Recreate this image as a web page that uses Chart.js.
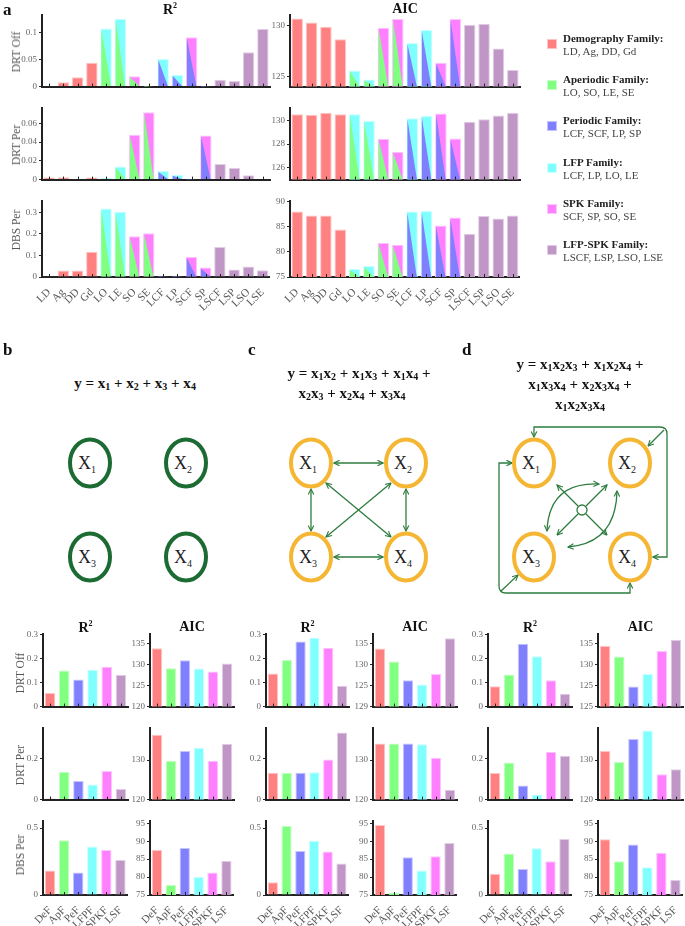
<!DOCTYPE html>
<html lang="en">
<head>
<meta charset="UTF-8">
<title>Family models: R2 and AIC</title>
<script src="https://cdn.jsdelivr.net/npm/chart.js"></script>
<style>
  body { margin: 0; background: #fff; }
  #page { position: relative; width: 685px; height: 926px; overflow: hidden;
          font-family: 'Liberation Serif', 'Times New Roman', serif; }
  #page canvas { position: absolute; }
  .pl { position: absolute; font-size: 17px; font-weight: bold; color: #111; line-height: 1; }
  .ttl { position: absolute; font-size: 14px; font-weight: bold; color: #111; transform: translate(-50%, -50%); white-space: nowrap; }
  .ttl sup { font-size: 8px; vertical-align: 6px; }
  .row { position: absolute; font-size: 11.5px; color: #555; transform: translate(-50%, -50%) rotate(-90deg); white-space: nowrap; }
  .eq { position: absolute; font-size: 15px; font-weight: bold; color: #111; transform: translate(-50%, -50%); white-space: nowrap; }
  .eq sub { font-size: 10px; vertical-align: -2px; }
  .lg-box { position: absolute; width: 10px; height: 10px; }
  .lg-t { position: absolute; font-size: 11px; font-weight: bold; color: #222; white-space: nowrap; line-height: 12px; }
  .lg-m { position: absolute; font-size: 11px; color: #444; white-space: nowrap; line-height: 12px; }
</style>
</head>
<body>
<div id="page"></div>
<script>
// ---------- data: panel a ----------
const featLabels = ['LD', 'Ag', 'DD', 'Gd', 'LO', 'LE', 'SO', 'SE', 'LCF', 'LP', 'SCF', 'SP', 'LSCF', 'LSP', 'LSO', 'LSE'];
// each feature belongs to one or two families (lower-left / upper-right part of the bar)
const famLower = ['Dem', 'Dem', 'Dem', 'Dem', 'Ape', 'Ape', 'Ape', 'Ape', 'Per', 'Per', 'Per', 'Per', 'LS', 'LS', 'LS', 'LS'];
const famUpper = ['Dem', 'Dem', 'Dem', 'Dem', 'LFP', 'LFP', 'SPK', 'SPK', 'LFP', 'LFP', 'SPK', 'SPK', 'LS', 'LS', 'LS', 'LS'];

const r2DrtOff = [0.0005, 0.008, 0.017, 0.044, 0.107, 0.125, 0.019, 0.001, 0.051, 0.022, 0.091, 0.001, 0.0126, 0.0103, 0.063, 0.106];
const r2DrtPer = [0.0023, 0.0026, 0.0003, 0.0023, 0.0016, 0.014, 0.048, 0.072, 0.0092, 0.0052, 0.001, 0.047, 0.0167, 0.0125, 0.0047, 0.0008];
const r2DbsPer = [0.004, 0.030, 0.030, 0.117, 0.317, 0.302, 0.189, 0.202, 0.004, 0.001, 0.094, 0.044, 0.139, 0.035, 0.049, 0.031];
const aicDrtOff = [130.70, 130.30, 129.88, 128.66, 125.58, 124.70, 129.79, 130.64, 128.29, 129.57, 126.34, 130.64, 130.09, 130.18, 127.74, 125.64];
const aicDrtPer = [130.51, 130.46, 130.64, 130.51, 130.51, 129.95, 128.44, 127.33, 130.18, 130.36, 130.56, 128.46, 129.87, 130.08, 130.41, 130.64];
const aicDbsPer = [88.0, 87.2, 87.2, 84.4, 76.6, 77.2, 81.8, 81.4, 88.0, 88.1, 85.2, 86.8, 83.6, 87.1, 86.6, 87.2];

const aR2Ticks = [[0, 0.05, 0.1], [0, 0.02, 0.04, 0.06], [0, 0.1, 0.2, 0.3]];
const aR2Max = [0.131, 0.076, 0.35];
const aAicTicks = [[125, 130], [126, 128, 130], [75, 80, 85, 90]];
const aAicMin = [124, 125, 75];
const aAicMax = [131, 131, 90];

const legendTitles = ['Demography Family:', 'Aperiodic Family:', 'Periodic Family:', 'LFP Family:', 'SPK Family:', 'LFP-SPK Family:'];
const legendMembers = ['LD, Ag, DD, Gd', 'LO, SO, LE, SE', 'LCF, SCF, LP, SP', 'LCF, LP, LO, LE', 'SCF, SP, SO, SE', 'LSCF, LSP, LSO, LSE'];
const legendFams = ['Dem', 'Ape', 'Per', 'LFP', 'SPK', 'LS'];

// ---------- data: panels b, c, d (rows: DRT Off, DRT Per, DBS Per) ----------
const famShort = ['DeF', 'ApF', 'PeF', 'LFPF', 'SPKF', 'LSF'];
const famShortKeys = ['Dem', 'Ape', 'Per', 'LFP', 'SPK', 'LS'];

const addR2 = [[0.057, 0.150, 0.113, 0.153, 0.166, 0.132],
               [0.006, 0.137, 0.091, 0.074, 0.140, 0.052],
               [0.183, 0.409, 0.168, 0.363, 0.337, 0.262]];
const addAIC = [[134.0, 129.2, 131.1, 129.1, 128.4, 130.3],
                [136.4, 129.8, 132.3, 133.1, 129.8, 134.1],
                [87.5, 77.8, 88.1, 80.0, 81.3, 84.5]];
const pairR2 = [[0.138, 0.194, 0.270, 0.286, 0.245, 0.087],
                [0.132, 0.132, 0.132, 0.135, 0.197, 0.330],
                [0.096, 0.517, 0.329, 0.406, 0.325, 0.236]];
const pairAIC = [[133.9, 130.8, 126.3, 125.3, 127.8, 136.4],
                 [134.2, 134.2, 134.2, 134.0, 130.6, 122.5],
                 [94.5, 75.7, 85.5, 81.8, 85.8, 89.5]];
const tripR2 = [[0.085, 0.133, 0.261, 0.209, 0.110, 0.053],
                [0.131, 0.182, 0.069, 0.025, 0.235, 0.215],
                [0.159, 0.310, 0.195, 0.349, 0.252, 0.418]];
const tripAIC = [[134.5, 132.0, 124.8, 127.8, 133.3, 136.0],
                 [132.3, 129.5, 135.3, 137.5, 126.4, 127.7],
                 [90.5, 84.4, 89.1, 82.7, 86.8, 79.2]];

const botR2Ticks = [[0, 0.1, 0.2, 0.3], [0, 0.2], [0, 0.5]];
const botR2Max = [0.3, 0.35, 0.55];
const botAicTicks = [[120, 125, 130, 135], [120, 130], [75, 80, 85, 90, 95]];
const botAicMin = [120, 120, 75];
const botAicMax = [137.3, 138, 95.5];
// tick labels of the first AIC row as printed in each panel
const addAicOffText = ['120', '125', '130', '135'];
const pairAicOffText = ['129', '125', '130', '135'];
const tripAicOffText = ['125', '125', '130', '135'];

// ---------- styling ----------
const SERIF = "'Liberation Serif', 'Times New Roman', serif";
const FAM = {
  Dem: { fill: '#ff8080', edge: '#ffc4c4' },
  Ape: { fill: '#80ff80', edge: '#c4ffc4' },
  Per: { fill: '#8080ff', edge: '#c4c4ff' },
  LFP: { fill: '#80ffff', edge: '#c8ffff' },
  SPK: { fill: '#ff80ff', edge: '#ffc4ff' },
  LS:  { fill: '#bf96c6', edge: '#e2cde6' }
};
const page = document.getElementById('page');

// bars split by a diagonal: lower-left triangle in the first family colour; small inward x ticks
const barExtras = {
  id: 'barExtras',
  afterDatasetsDraw(chart) {
    const ctx = chart.ctx;
    const area = chart.chartArea;
    const ds = chart.data.datasets[0];
    const meta = chart.getDatasetMeta(0);
    ctx.save();
    ctx.beginPath();
    ctx.rect(area.left, area.top, area.right - area.left, area.bottom - area.top);
    ctx.clip();
    meta.data.forEach((bar, i) => {
      if (!ds.lowerFam || ds.lowerFam[i] === ds.upperFam[i]) return;
      const p = bar.getProps(['x', 'y', 'base', 'width'], true);
      const l = p.x - p.width / 2 + 1, r = p.x + p.width / 2 - 1;
      const bottom = Math.min(p.base, area.bottom);
      ctx.fillStyle = FAM[ds.lowerFam[i]].fill;
      ctx.beginPath();
      ctx.moveTo(l, p.y + 1);
      ctx.lineTo(l, bottom);
      ctx.lineTo(r, bottom);
      ctx.closePath();
      ctx.fill();
    });
    ctx.restore();
    ctx.save();
    const xs = chart.scales.x;
    ctx.strokeStyle = '#222';
    ctx.lineWidth = 1;
    chart.data.labels.forEach((_, i) => {
      const px = Math.round(xs.getPixelForValue(i)) + 0.5;
      ctx.beginPath();
      ctx.moveTo(px, xs.top);
      ctx.lineTo(px, xs.top - 3);
      ctx.stroke();
    });
    ctx.restore();
  }
};

// box = [left, right, top, bottom] of the plot area in page pixels
function barChart(box, labels, values, lower, upper, yMin, yMax, ticks, tickText, showX, barPct) {
  const G = 36, PT = 6, PR = 3, B = showX ? 34 : 4;
  const w = box[1] - box[0] + G + PR;
  const h = box[3] - box[2] + PT + B;
  const cv = document.createElement('canvas');
  cv.width = w; cv.height = h;
  cv.style.left = (box[0] - G) + 'px';
  cv.style.top = (box[2] - PT) + 'px';
  page.appendChild(cv);
  return new Chart(cv, {
    type: 'bar',
    data: {
      labels: labels,
      datasets: [{
        data: values,
        lowerFam: lower,
        upperFam: upper,
        backgroundColor: upper.map(f => FAM[f].fill),
        borderColor: upper.map(f => FAM[f].edge),
        borderWidth: 1,
        barPercentage: barPct,
        categoryPercentage: 1
      }]
    },
    options: {
      responsive: false,
      animation: false,
      layout: { padding: { left: 0, right: PR, top: PT, bottom: 0 } },
      plugins: { legend: { display: false }, tooltip: { enabled: false } },
      scales: {
        x: {
          grid: { display: false },
          border: { display: true, color: '#222', width: 2 },
          ticks: {
            display: showX, autoSkip: false, minRotation: 45, maxRotation: 45, padding: 1,
            color: '#555', font: { family: SERIF, size: 11 }
          },
          afterFit: s => { s.height = B; }
        },
        y: {
          min: yMin, max: yMax,
          grid: { display: true, drawOnChartArea: false, drawTicks: true, tickLength: 3, color: '#222' },
          border: { display: true, color: '#222', width: 2 },
          ticks: {
            color: '#666', padding: 2, font: { family: SERIF, size: 9 },
            callback: (v, i) => tickText[i]
          },
          afterBuildTicks: s => { s.ticks = ticks.map(v => ({ value: v })); },
          afterFit: s => { s.width = G; }
        }
      }
    },
    plugins: [barExtras]
  });
}

function addHtml(cls, html, left, top) {
  const d = document.createElement('div');
  d.className = cls;
  d.innerHTML = html;
  d.style.left = left + 'px';
  d.style.top = top + 'px';
  page.appendChild(d);
  return d;
}

// ---------- panel a ----------
const aR2Data = [r2DrtOff, r2DrtPer, r2DbsPer];
const aAicData = [aicDrtOff, aicDrtPer, aicDbsPer];
const aRowsY = [[14, 90], [107, 183], [200, 277]];
const rowNames = ['DRT Off', 'DRT Per', 'DBS Per'];
const aRowLabelY = [52, 145, 230];
for (let r = 0; r < 3; r++) {
  const last = r === 2;
  barChart([42, 270, aRowsY[r][0], aRowsY[r][1]], featLabels, aR2Data[r], famLower, famUpper,
    0, aR2Max[r], aR2Ticks[r], aR2Ticks[r].map(String), last, 0.8);
  barChart([290, 520, aRowsY[r][0], aRowsY[r][1]], featLabels, aAicData[r], famLower, famUpper,
    aAicMin[r], aAicMax[r], aAicTicks[r], aAicTicks[r].map(String), last, 0.8);
  addHtml('row', rowNames[r], 16, aRowLabelY[r]);
}
addHtml('pl', 'a', 3, 1);
addHtml('ttl', 'R<sup>2</sup>', 170, 9);
addHtml('ttl', 'AIC', 405, 9);

legendTitles.forEach((t, i) => {
  const cy = 44 + i * 41.2;
  const b = addHtml('lg-box', '', 547, cy - 5);
  b.style.background = FAM[legendFams[i]].fill;
  b.style.boxShadow = 'inset 0 0 0 1px ' + FAM[legendFams[i]].edge;
  addHtml('lg-t', t, 563, cy - 12);
  addHtml('lg-m', legendMembers[i], 563, cy + 1);
});

// ---------- panels b, c, d: bar charts ----------
const botRowsY = [[633, 710], [727, 803], [820, 895]];
const groups = [
  { r2: addR2, aic: addAIC, offText: addAicOffText, r2x: [43, 128], aicx: [150, 234] },
  { r2: pairR2, aic: pairAIC, offText: pairAicOffText, r2x: [266, 349], aicx: [373, 457] },
  { r2: tripR2, aic: tripAIC, offText: tripAicOffText, r2x: [488, 572], aicx: [598, 683] }
];
groups.forEach(g => {
  for (let r = 0; r < 3; r++) {
    const last = r === 2;
    barChart([g.r2x[0], g.r2x[1], botRowsY[r][0], botRowsY[r][1]], famShort, g.r2[r], famShortKeys, famShortKeys,
      0, botR2Max[r], botR2Ticks[r], botR2Ticks[r].map(String), last, 0.74);
    const aicText = r === 0 ? g.offText : botAicTicks[r].map(String);
    barChart([g.aicx[0], g.aicx[1], botRowsY[r][0], botRowsY[r][1]], famShort, g.aic[r], famShortKeys, famShortKeys,
      botAicMin[r], botAicMax[r], botAicTicks[r], aicText, last, 0.74);
  }
  addHtml('ttl', 'R<sup>2</sup>', (g.r2x[0] + g.r2x[1]) / 2, 627);
  addHtml('ttl', 'AIC', (g.aicx[0] + g.aicx[1]) / 2, 627);
});
[673, 765, 855].forEach((y, r) => addHtml('row', rowNames[r], 20, y));

// ---------- panels b, c, d: model diagrams ----------
addHtml('pl', 'b', 3, 341);
addHtml('pl', 'c', 248, 341);
addHtml('pl', 'd', 462, 341);
addHtml('eq', 'y = x<sub>1</sub> + x<sub>2</sub> + x<sub>3</sub> + x<sub>4</sub>', 135, 383);
addHtml('eq', 'y = x<sub>1</sub>x<sub>2</sub> + x<sub>1</sub>x<sub>3</sub> + x<sub>1</sub>x<sub>4</sub> +', 359, 373);
addHtml('eq', 'x<sub>2</sub>x<sub>3</sub> + x<sub>2</sub>x<sub>4</sub> + x<sub>3</sub>x<sub>4</sub>', 352, 393);
addHtml('eq', 'y = x<sub>1</sub>x<sub>2</sub>x<sub>3</sub> + x<sub>1</sub>x<sub>2</sub>x<sub>4</sub> +', 580, 364);
addHtml('eq', 'x<sub>1</sub>x<sub>3</sub>x<sub>4</sub> + x<sub>2</sub>x<sub>3</sub>x<sub>4</sub> +', 580, 384);
addHtml('eq', 'x<sub>1</sub>x<sub>2</sub>x<sub>3</sub>x<sub>4</sub>', 580, 404);

const GREEN = '#2d7d3f';
function node(cx, cy, n, color) {
  return `<ellipse cx="${cx}" cy="${cy}" rx="20" ry="23.5" fill="#fff" stroke="${color}" stroke-width="4"/>` +
    `<text x="${cx - 3}" y="${cy + 6}" text-anchor="middle" font-family="${SERIF}" font-size="18" fill="#222">X<tspan font-size="10" dy="4">${n}</tspan></text>`;
}
function arrow(d, both) {
  return `<path d="${d}" fill="none" stroke="${GREEN}" stroke-width="1.3" marker-end="url(#ah)"${both ? ' marker-start="url(#ah)"' : ''}/>`;
}
let svg = `<svg width="685" height="926" style="position:absolute;left:0;top:0" xmlns="http://www.w3.org/2000/svg">
<defs><marker id="ah" viewBox="0 0 10 10" refX="9" refY="5" markerWidth="7" markerHeight="7" markerUnits="userSpaceOnUse" orient="auto-start-reverse">
<path d="M1,1 L9,5 L1,9" fill="none" stroke="${GREEN}" stroke-width="1.6"/></marker></defs>`;
// b
[[90, 463], [186, 463], [90, 557], [186, 557]].forEach((p, i) => { svg += node(p[0], p[1], i + 1, '#1c6b33'); });
// c
svg += arrow('M334,463 L383,463', true) + arrow('M334,557 L383,557', true);
svg += arrow('M311,489 L311,531', true) + arrow('M406,489 L406,531', true);
svg += arrow('M326,483 L391,537', true) + arrow('M391,483 L326,537', true);
[[311, 463], [406, 463], [311, 557], [406, 557]].forEach((p, i) => { svg += node(p[0], p[1], i + 1, '#f5b634'); });
// d
svg += arrow('M534,437 L534,427 L660,427 Q667,427 667,434 L667,557 L653,557', true);
svg += arrow('M664,430 L648,446', false);
svg += arrow('M512,463 L499,463 L499,586 Q499,593 506,593 L630,593 L630,583', true);
svg += arrow('M501,591 L518,575', false);
svg += arrow('M578,506 L557,485', false) + arrow('M586,506 L607,485', false);
svg += arrow('M578,514 L557,535', false) + arrow('M586,514 L607,535', false);
svg += arrow('M599,484 Q549,482 547,531', true);
svg += arrow('M617,491 Q616,543 568,547', true);
svg += `<circle cx="582" cy="510" r="5" fill="#fff" stroke="${GREEN}" stroke-width="1.3"/>`;
[[534, 463], [630, 463], [534, 557], [630, 557]].forEach((p, i) => { svg += node(p[0], p[1], i + 1, '#f5b634'); });
svg += '</svg>';
const holder = document.createElement('div');
holder.innerHTML = svg;
page.insertBefore(holder.firstChild, page.firstChild);
</script>
</body>
</html>
